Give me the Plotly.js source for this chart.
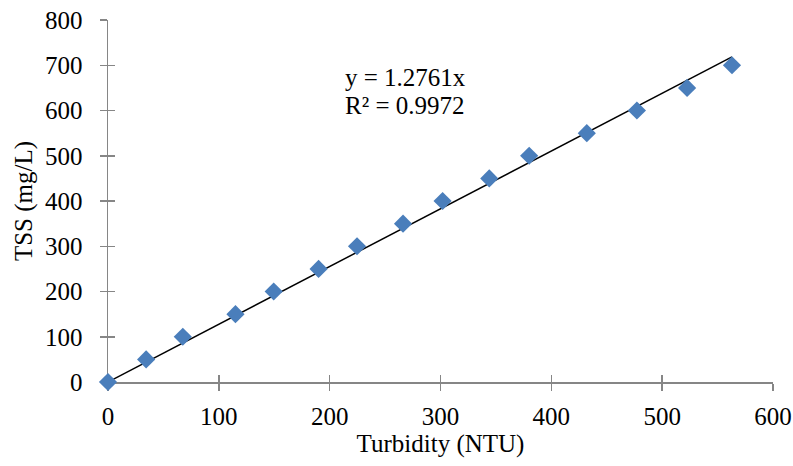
<!DOCTYPE html>
<html>
<head>
<meta charset="utf-8">
<script src="https://cdn.plot.ly/plotly-3.0.1.min.js"></script>
<style>
  html, body { margin: 0; padding: 0; background: #fff; }
  #chart { width: 793px; height: 466px; }
</style>
</head>
<body>
<div id="chart"></div>
<script>
// Calibration samples: turbidity reading vs. total suspended solids
const turbidity = [0, 34.4, 67.5, 115, 149.5, 190, 224.7, 266.2, 301.9, 344, 380, 432, 477.2, 522.5, 563];
const tss = [0, 50, 100, 150, 200, 250, 300, 350, 400, 450, 500, 550, 600, 650, 700];

// Linear fit through the origin
const slope = 1.2761;
const rSquared = 0.9972;

const xTicks = [0, 100, 200, 300, 400, 500, 600];
const yTicks = [0, 100, 200, 300, 400, 500, 600, 700, 800];

const fitX = [0, Math.max(...turbidity)];
const fitY = fitX.map(v => slope * v);

const serif = 'Liberation Serif, Times New Roman, serif';
const axisGray = '#868686';

const points = {
  x: turbidity, y: tss,
  type: 'scatter', mode: 'markers',
  marker: { symbol: 'diamond', size: 14, color: '#4A7EBB' },
  cliponaxis: false,
  hoverinfo: 'x+y'
};

const fitLine = {
  x: fitX, y: fitY,
  type: 'scatter', mode: 'lines',
  line: { color: '#000000', width: 1.5 },
  cliponaxis: false,
  hoverinfo: 'skip'
};

const baseAxis = {
  showgrid: false, zeroline: false,
  showline: true, linecolor: axisGray, linewidth: 1.5,
  tickcolor: axisGray, tickwidth: 1.5, ticklen: 7,
  layer: 'below traces', fixedrange: true
};

const layout = {
  width: 793, height: 466,
  margin: { l: 108, r: 20, t: 20, b: 84 },
  paper_bgcolor: '#ffffff', plot_bgcolor: '#ffffff',
  showlegend: false,
  font: { family: serif, size: 25, color: '#000000' },
  xaxis: Object.assign({}, baseAxis, {
    range: [0, 600], tickvals: xTicks, ticktext: xTicks.map(String),
    ticks: 'outside', ticklabelstandoff: 4,
    title: { text: 'Turbidity (NTU)', font: { family: serif, size: 25 }, standoff: 2 }
  }),
  yaxis: Object.assign({}, baseAxis, {
    range: [0, 800], tickvals: yTicks, ticktext: yTicks.map(String),
    ticks: 'outside', ticklabelstandoff: 12,
    title: { text: 'TSS (mg/L)', font: { family: serif, size: 25 }, standoff: 5 }
  }),
  // companion axes give the crossing tick marks on the inner side
  xaxis2: Object.assign({}, baseAxis, {
    overlaying: 'x', matches: 'x', range: [0, 600], tickvals: xTicks,
    ticks: 'inside', showticklabels: false, showline: false, side: 'bottom'
  }),
  yaxis2: Object.assign({}, baseAxis, {
    overlaying: 'y', matches: 'y', range: [0, 800], tickvals: yTicks,
    ticks: 'inside', showticklabels: false, showline: false, side: 'left'
  }),
  annotations: [
    { xref: 'x', yref: 'y', x: 212, y: 672, xanchor: 'left', yanchor: 'middle',
      text: 'y = ' + slope.toFixed(4) + 'x', showarrow: false,
      font: { family: serif, size: 25, color: '#000000' } },
    { xref: 'x', yref: 'y', x: 212, y: 612, xanchor: 'left', yanchor: 'middle',
      text: 'R² = ' + rSquared.toFixed(4), showarrow: false,
      font: { family: serif, size: 25, color: '#000000' } }
  ]
};

// invisible trace to carry the companion axes
const tickCarrier = { x: [0], y: [0], xaxis: 'x2', yaxis: 'y2', type: 'scatter', mode: 'markers',
  marker: { opacity: 0 }, hoverinfo: 'skip' };

Plotly.newPlot('chart', [tickCarrier, fitLine, points], layout, { displayModeBar: false, staticPlot: true });
</script>
</body>
</html>
